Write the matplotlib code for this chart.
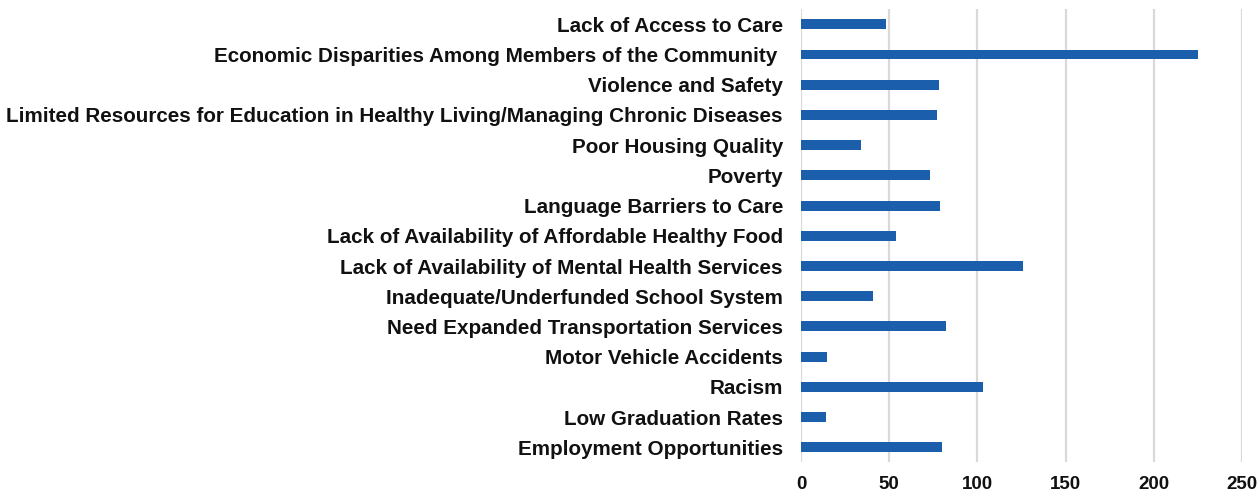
import numpy as np
import matplotlib
matplotlib.use("Agg")
import matplotlib.pyplot as plt

# survey responses per community issue, listed top to bottom
issues = [
    "Lack of Access to Care",
    "Economic Disparities Among Members of the Community ",
    "Violence and Safety",
    "Limited Resources for Education in Healthy Living/Managing Chronic Diseases",
    "Poor Housing Quality",
    "Poverty",
    "Language Barriers to Care",
    "Lack of Availability of Affordable Healthy Food",
    "Lack of Availability of Mental Health Services",
    "Inadequate/Underfunded School System",
    "Need Expanded Transportation Services",
    "Motor Vehicle Accidents",
    "Racism",
    "Low Graduation Rates",
    "Employment Opportunities",
]
counts = [48, 225, 78, 77, 34, 73, 79, 54, 126, 41, 82, 15, 103, 14, 80]
x_ticks = [0, 50, 100, 150, 200, 250]

plt.rcParams["font.family"] = ["Liberation Sans", "DejaVu Sans"]

fig = plt.figure(figsize=(12.6, 4.96), dpi=100)
ax = fig.add_axes([0.6357, 0.0677, 0.35, 0.9138])

y = np.arange(len(issues))
ax.barh(y, counts, height=0.33, color="#1B5EAB", zorder=3)

ax.set_ylim(len(issues) - 0.5, -0.5)
ax.set_xlim(0, 250)
ax.set_xticks(x_ticks)
ax.set_yticks(y)
ax.set_yticklabels(issues, fontsize=14.9, fontweight="bold", color="#111111")
ax.set_xticklabels([str(t) for t in x_ticks], fontsize=13.5, fontweight="bold", color="#111111")

ax.tick_params(axis="y", length=0, pad=13)
ax.tick_params(axis="x", length=0, pad=10)
ax.grid(axis="x", color="#D9D9D9", linewidth=1.6, zorder=0)
ax.set_axisbelow(True)
for s in ax.spines.values():
    s.set_visible(False)

fig.savefig("out.png", dpi=100)
plt.close(fig)
